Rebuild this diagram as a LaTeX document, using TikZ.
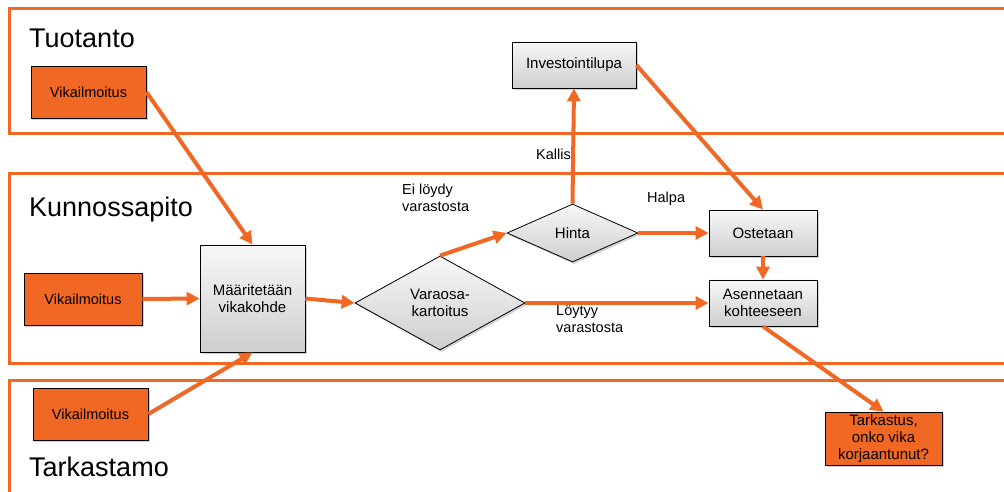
\documentclass[tikz,border=0pt]{standalone}
\usepackage{fontspec}
\setmainfont{Liberation Sans}
\usetikzlibrary{shapes.geometric,arrows.meta,shadows}
\definecolor{flowor}{RGB}{241,103,36}
\tikzset{
  lane/.style={draw=flowor, line width=3bp},
  lanetitle/.style={anchor=base west, inner sep=0pt, font=\fontsize{27bp}{30bp}\selectfont},
  edgetext/.style={anchor=base west, inner sep=0pt, align=left, font=\fontsize{14.5bp}{17bp}\selectfont},
  shade/.style={drop shadow={opacity=0.35, shadow xshift=1.5bp, shadow yshift=-2bp}},
  report/.style={draw=black, line width=0.8bp, fill=flowor, shade, inner sep=0pt, align=center,
    font=\fontsize{14.5bp}{17bp}\selectfont},
  process/.style={draw=black, line width=0.8bp, top color=gray!6, bottom color=gray!38, shade,
    inner sep=0pt, align=center, font=\fontsize{15bp}{17bp}\selectfont},
  decision/.style={process, shape=diamond},
  flow/.style={draw=flowor, line width=4bp, -{Triangle[length=13bp,width=13bp]}}
}
\begin{document}
\begin{tikzpicture}[x=1bp,y=-1bp]
\useasboundingbox (0,0) rectangle (1004,492);
\clip (0,0) rectangle (1004,492);
\fill[white] (0,0) rectangle (1004,492);

% swimlanes
\draw[lane] (9,9) rectangle (1015,134);
\draw[lane] (9,174) rectangle (1015,363);
\draw[lane] (9,380) rectangle (1015,510);
\node[lanetitle] (tTuo) at (29,48) {Tuotanto};
\node[lanetitle] (tKun) at (29,217) {Kunnossapito};
\node[lanetitle] (tTar) at (29,476) {Tarkastamo};

% nodes
\node[report, minimum width=115bp, minimum height=52bp] (v1) at (88.5,92) {Vikailmoitus};
\node[report, minimum width=118bp, minimum height=52bp] (v2) at (83,299) {Vikailmoitus};
\node[report, minimum width=115bp, minimum height=52bp] (v3) at (90.5,414) {Vikailmoitus};
\node[process, minimum width=105bp, minimum height=107bp] (mv) at (252.5,298.5) {Määritetään\\vikakohde};
\node[decision, aspect=1.8, minimum width=170bp, minimum height=94bp] (vk) at (440,303) {Varaosa-\\kartoitus};
\node[decision, aspect=2.2, minimum width=131bp, minimum height=58bp] (hi) at (572.5,233) {Hinta};
\node[process, minimum width=124bp, minimum height=46bp] (il) at (574,65) {Investointilupa};
\node[process, minimum width=108bp, minimum height=46bp] (os) at (763,233) {Ostetaan};
\node[process, minimum width=108bp, minimum height=46bp] (as) at (763,303) {Asennetaan\\kohteeseen};
\node[report, minimum width=117bp, minimum height=53bp, font=\fontsize{15bp}{17bp}\selectfont] (tk) at (883.5,438.5) {Tarkastus,\\onko vika\\korjaantunut?};

% connector labels
\node[edgetext] (lEi) at (402,212) {Ei löydy\\varastosta};
\node[edgetext] (lKa) at (536,160) {Kallis};
\node[edgetext] (lHa) at (647,202.5) {Halpa};
\node[edgetext] (lLo) at (556,333) {Löytyy\\varastosta};

% connectors
\draw[flow] (v1.east) -- (mv.north);
\draw[flow] (v2.east) -- (mv.west);
\draw[flow] (v3.east) -- (mv.south);
\draw[flow] (mv.east) -- (vk.west);
\draw[flow] (vk.north) -- (hi.west);
\draw[flow] (vk.east) -- (as.west);
\draw[flow] (hi.north) -- (il.south);
\draw[flow] (hi.east) -- (os.west);
\draw[flow] (il.east) -- (os.north);
\draw[flow] (os.south) -- (as.north);
\draw[flow] (as.south) -- (tk.north);
\end{tikzpicture}
\end{document}
